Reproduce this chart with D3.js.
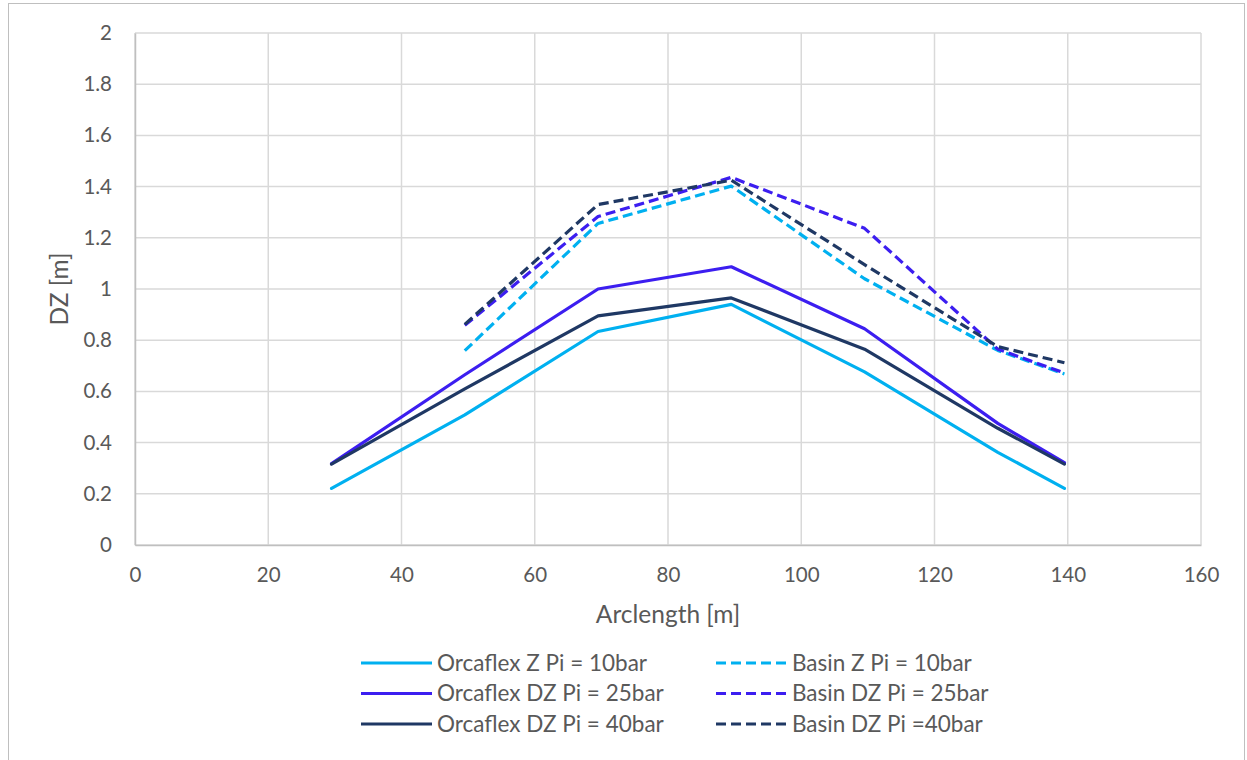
<!DOCTYPE html>
<html>
<head>
<meta charset="utf-8">
<script src="https://cdn.jsdelivr.net/npm/d3@7"></script>
<style>
  html, body { margin: 0; padding: 0; background: #fff; }
  svg { display: block; font-family: Lato, "Open Sans", sans-serif; }
</style>
</head>
<body>
<svg id="chart" width="1247" height="760"></svg>
<script>
// Arclength positions [m]
const arclength = [29.5, 49.5, 69.5, 89.5, 109.5, 129.5, 139.5];

// DZ [m] per series (null = no measurement)
const orcaflexZ10  = [0.221, 0.508, 0.834, 0.940, 0.676, 0.362, 0.221];
const orcaflexDZ25 = [0.318, 0.665, 1.000, 1.087, 0.845, 0.475, 0.322];
const orcaflexDZ40 = [0.316, 0.610, 0.895, 0.965, 0.765, 0.456, 0.316];
const basinZ10     = [null, 0.759, 1.256, 1.402, 1.040, 0.760, 0.668];
const basinDZ25    = [null, 0.858, 1.283, 1.436, 1.237, 0.765, 0.672];
const basinDZ40    = [null, 0.862, 1.330, 1.425, 1.095, 0.775, 0.712];

const xTicks = [0, 20, 40, 60, 80, 100, 120, 140, 160];
const yTicks = [0, 0.2, 0.4, 0.6, 0.8, 1, 1.2, 1.4, 1.6, 1.8, 2];

const seriesNames = [
  "Orcaflex Z Pi = 10bar", "Orcaflex DZ Pi = 25bar", "Orcaflex DZ Pi = 40bar",
  "Basin Z Pi = 10bar", "Basin DZ Pi = 25bar", "Basin DZ Pi =40bar"
];
const seriesValues = [orcaflexZ10, orcaflexDZ25, orcaflexDZ40, basinZ10, basinDZ25, basinDZ40];
const seriesColors = ["#00B0F0", "#3C1EF0", "#1F3864", "#00B0F0", "#3C1EF0", "#1F3864"];
const seriesDashed = [false, false, false, true, true, true];

const textColor = "#595959";
const svg = d3.select("#chart");

// outer chart frame
svg.append("rect")
  .attr("x", 8.5).attr("y", 3.5).attr("width", 1236).attr("height", 780)
  .attr("fill", "#fff").attr("stroke", "#bfbfbf").attr("stroke-width", 1);

const x = d3.scaleLinear().domain([0, 160]).range([135, 1201]);
const y = d3.scaleLinear().domain([0, 2]).range([545, 33]);

// gridlines
const grid = svg.append("g");
grid.selectAll("line.h").data(yTicks).join("line")
  .attr("x1", x(0)).attr("x2", x(160))
  .attr("y1", d => y(d)).attr("y2", d => y(d))
  .attr("stroke", "#d9d9d9").attr("stroke-width", 1.5);
grid.selectAll("line.v").data(xTicks).join("line")
  .attr("y1", y(0)).attr("y2", y(2))
  .attr("x1", d => x(d)).attr("x2", d => x(d))
  .attr("stroke", "#d9d9d9").attr("stroke-width", 1.5);

// axes
const xAxis = svg.append("g").attr("transform", `translate(0,${y(0)})`)
  .call(d3.axisBottom(x).tickValues(xTicks).tickSize(0).tickPadding(22));
xAxis.select(".domain").attr("stroke", "#bfbfbf").attr("stroke-width", 1.5);
xAxis.selectAll("text").attr("fill", textColor).attr("font-size", 20.5)
  .attr("font-family", "Lato, sans-serif");

const yAxis = svg.append("g").attr("transform", `translate(${x(0)},0)`)
  .call(d3.axisLeft(y).tickValues(yTicks).tickSize(0).tickPadding(23).tickFormat(d3.format("~g")));
yAxis.select(".domain").attr("stroke", "#bfbfbf").attr("stroke-width", 1.5);
yAxis.selectAll("text").attr("fill", textColor).attr("font-size", 20.5)
  .attr("font-family", "Lato, sans-serif");

// axis titles
svg.append("text")
  .attr("x", (x(0) + x(160)) / 2).attr("y", 623)
  .attr("text-anchor", "middle").attr("fill", textColor).attr("font-size", 24.5)
  .text("Arclength [m]");
svg.append("text")
  .attr("transform", `translate(68,${y(1)}) rotate(-90)`)
  .attr("text-anchor", "middle").attr("fill", textColor).attr("font-size", 24.5)
  .text("DZ [m]");

// series lines
const line = d3.line()
  .defined(d => d.v !== null)
  .x(d => x(d.a)).y(d => y(d.v));

const plot = svg.append("g");
seriesValues.forEach((vals, i) => {
  const pts = arclength.map((a, k) => ({ a, v: vals[k] }));
  plot.append("path")
    .datum(pts)
    .attr("d", line)
    .attr("fill", "none")
    .attr("stroke", seriesColors[i])
    .attr("stroke-width", 3.2)
    .attr("stroke-linejoin", "round")
    .attr("stroke-linecap", seriesDashed[i] ? "butt" : "round")
    .attr("stroke-dasharray", seriesDashed[i] ? "10,5" : null);
});

// legend
const legend = svg.append("g");
seriesNames.forEach((name, i) => {
  const col = seriesDashed[i] ? 1 : 0;
  const row = i % 3;
  const lx = col === 0 ? 361 : 716;
  const ly = 663 + row * 30.5;
  legend.append("line")
    .attr("x1", lx).attr("x2", lx + 71).attr("y1", ly).attr("y2", ly)
    .attr("stroke", seriesColors[i]).attr("stroke-width", 3.2)
    .attr("stroke-dasharray", seriesDashed[i] ? "10,5" : null);
  legend.append("text")
    .attr("x", lx + 76).attr("y", ly).attr("dy", "0.35em")
    .attr("fill", textColor).attr("font-size", 22.5)
    .text(name);
});
</script>
</body>
</html>
